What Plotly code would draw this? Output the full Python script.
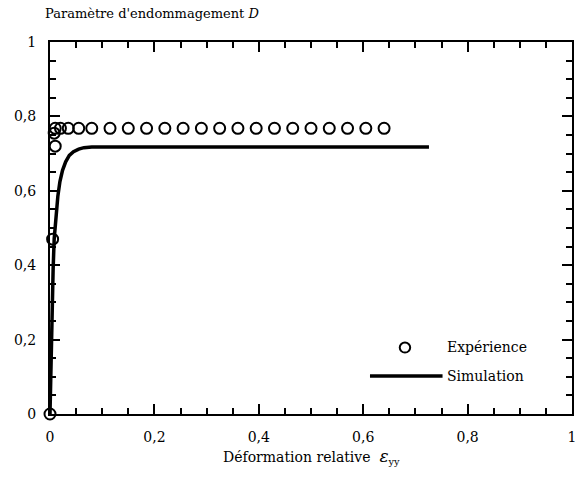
import plotly.graph_objects as go

# Expérience (points mesurés)
exp_eps = [0.0, 0.005, 0.01, 0.008, 0.01, 0.02, 0.035, 0.055, 0.08, 0.115, 0.15, 0.185,
           0.22, 0.255, 0.29, 0.325, 0.36, 0.395, 0.43, 0.465, 0.5, 0.535, 0.57,
           0.605, 0.64]
exp_D = [0.0, 0.47, 0.72, 0.755, 0.768, 0.768, 0.768, 0.768, 0.768, 0.768, 0.768, 0.768,
         0.768, 0.768, 0.768, 0.768, 0.768, 0.768, 0.768, 0.768, 0.768, 0.768, 0.768,
         0.768, 0.768]

# Simulation
sim_eps = [0.0, 0.001, 0.002, 0.004, 0.006, 0.008, 0.011, 0.015, 0.019, 0.024, 0.03,
           0.037, 0.045, 0.055, 0.065, 0.08, 0.1, 0.726]
sim_D = [0.0, 0.08, 0.15, 0.28, 0.39, 0.47, 0.53, 0.585, 0.625, 0.655, 0.678,
         0.695, 0.705, 0.712, 0.716, 0.718, 0.718, 0.718]

tickvals = [0, 0.2, 0.4, 0.6, 0.8, 1]
ticktext = ["0", "0,2", "0,4", "0,6", "0,8", "1"]

font = "DejaVu Serif"

fig = go.Figure()
fig.add_trace(go.Scatter(x=sim_eps, y=sim_D, mode="lines",
                         line=dict(color="black", width=3.5), showlegend=False))
fig.add_trace(go.Scatter(x=exp_eps, y=exp_D, mode="markers",
                         marker=dict(symbol="circle-open", size=11, color="black",
                                     line=dict(width=2)),
                         showlegend=False, cliponaxis=False))


def make_axis(standoff):
    return dict(range=[0, 1], tickvals=tickvals, ticktext=ticktext, ticks="inside",
                ticklen=10, tickwidth=1.5, tickcolor="black", showline=True,
                linecolor="black", linewidth=2, mirror="ticks", showgrid=False,
                zeroline=False, automargin=False, ticklabelstandoff=standoff,
                tickfont=dict(family=font, size=14, color="black"),
                minor=dict(dtick=0.05, ticks="inside", ticklen=6, tickwidth=1.5,
                           tickcolor="black", showgrid=False))


fig.update_layout(
    width=579, height=480,
    margin=dict(l=50, r=7, t=42, b=66),
    plot_bgcolor="white", paper_bgcolor="white",
    xaxis=make_axis(9), yaxis=make_axis(9),
    showlegend=False,
    annotations=[
        dict(text="Paramètre d'endommagement <i>D</i>", xref="paper", yref="paper",
             x=-0.014, y=1.0, yshift=19, xanchor="left", yanchor="bottom",
             showarrow=False, font=dict(family=font, size=13, color="black")),
        dict(text="Déformation relative  <span style='font-size:17px'><i>ε</i></span>"
                  "<sub>yy</sub>",
             xref="paper", yref="paper", x=0.5, y=0, yshift=-30, xanchor="center",
             yanchor="top", showarrow=False,
             font=dict(family=font, size=14, color="black")),
        dict(text="Expérience", xref="paper", yref="paper", x=0.757, y=0.18,
             xanchor="left", yanchor="middle", showarrow=False,
             font=dict(family=font, size=14, color="black")),
        dict(text="Simulation", xref="paper", yref="paper", x=0.757, y=0.102,
             xanchor="left", yanchor="middle", showarrow=False,
             font=dict(family=font, size=14, color="black")),
    ],
    shapes=[
        dict(type="circle", xref="paper", yref="paper", x0=0.670, x1=0.690,
             y0=0.165, y1=0.192, line=dict(color="black", width=2)),
        dict(type="line", xref="paper", yref="paper", x0=0.613, x1=0.752,
             y0=0.102, y1=0.102, line=dict(color="black", width=3.5)),
    ],
)

fig.write_html("out.html", config={"displayModeBar": False},
               post_script="document.body.style.margin='0';")
